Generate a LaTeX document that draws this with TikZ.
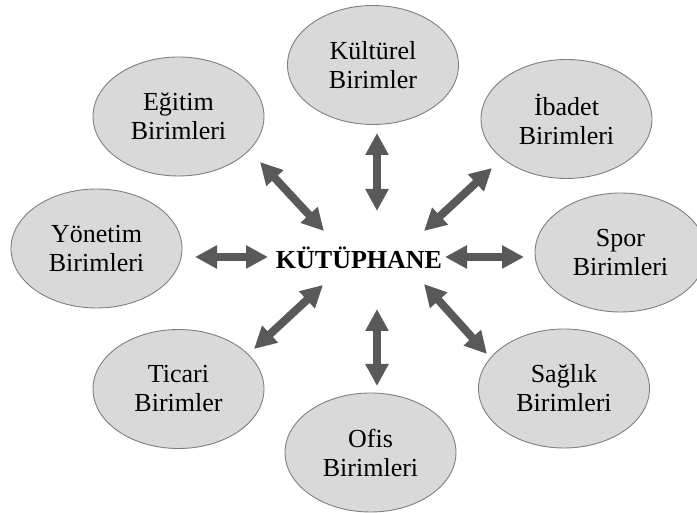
\documentclass[tikz,border=0pt]{standalone}
\usepackage{fontspec}
\setmainfont{Liberation Serif}
\usetikzlibrary{shapes.geometric,arrows.meta}
\definecolor{ellfill}{HTML}{D9D9D9}
\definecolor{elldraw}{HTML}{7F7F7F}
\definecolor{arrgray}{HTML}{595959}
\begin{document}
\begin{tikzpicture}[x=1pt,y=-1pt,
  unit/.style={ellipse, draw=elldraw, line width=0.9pt, fill=ellfill,
    minimum width=171pt, minimum height=119pt, inner sep=0pt, align=center,
    font=\fontsize{26}{29}\selectfont},
  link/.style={draw=arrgray, line width=8pt,
    {Triangle[length=22pt,width=22pt]}-{Triangle[length=22pt,width=22pt]}}
]
\useasboundingbox (0,0) rectangle (697,513);
% units
\node[unit] (egitim)  at (178.5,116.5) {Eğitim\\Birimleri};
\node[unit] (kultur)  at (373,65)      {Kültürel\\Birimler};
\node[unit] (ibadet)  at (566.5,119)   {İbadet\\Birimleri};
\node[unit] (yonetim) at (96.5,248.5)  {Yönetim\\Birimleri};
\node[unit] (spor)    at (620.5,252.5) {Spor\\Birimleri};
\node[unit] (ticari)  at (178.5,389)   {Ticari\\Birimler};
\node[unit] (ofis)    at (370.5,452.5) {Ofis\\Birimleri};
\node[unit] (saglik)  at (564,388.5)   {Sağlık\\Birimleri};
% centre
\node[anchor=base, inner sep=0pt, font=\fontsize{26}{29}\selectfont\bfseries] (kut) at (359,269) {KÜTÜPHANE};
% arrow end points
\coordinate (ulA) at (260,162);  \coordinate (ulB) at (324,231);
\coordinate (upA) at (377,133);  \coordinate (upB) at (377,211);
\coordinate (urA) at (492,168);  \coordinate (urB) at (424,231);
\coordinate (lA)  at (195,257);  \coordinate (lB)  at (268,257);
\coordinate (rA)  at (445,257);  \coordinate (rB)  at (524,257);
\coordinate (llA) at (323,285);  \coordinate (llB) at (254,349);
\coordinate (dnA) at (377,309);  \coordinate (dnB) at (377,386);
\coordinate (lrA) at (424,284);  \coordinate (lrB) at (487,354);
% arrows
\draw[link] (ulA) -- (ulB);
\draw[link] (upA) -- (upB);
\draw[link] (urA) -- (urB);
\draw[link] (lA) -- (lB);
\draw[link] (rA) -- (rB);
\draw[link] (llA) -- (llB);
\draw[link] (dnA) -- (dnB);
\draw[link] (lrA) -- (lrB);
\end{tikzpicture}
\end{document}
